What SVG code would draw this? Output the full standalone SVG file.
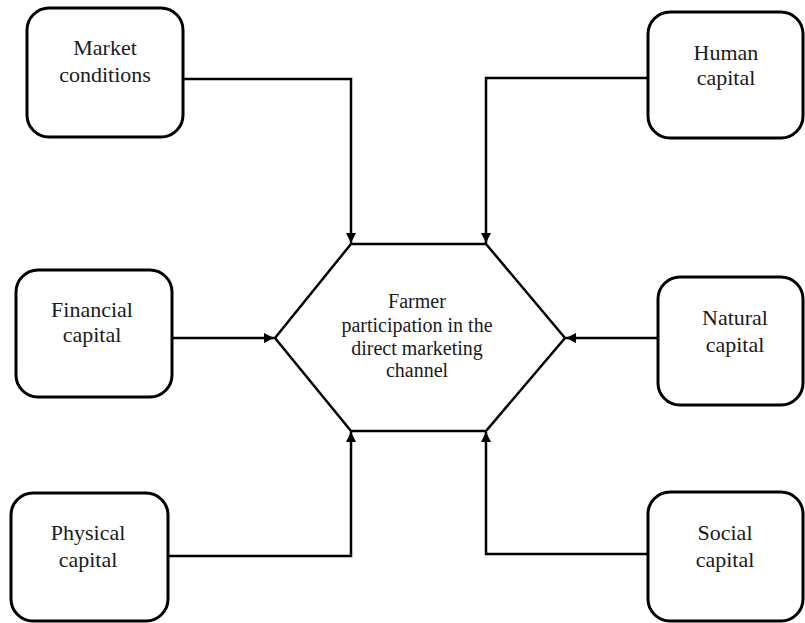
<svg xmlns="http://www.w3.org/2000/svg" width="805" height="623" viewBox="0 0 805 623">
<style>
.box{fill:#fff;stroke:#000;stroke-width:3}
.hex{fill:#fff;stroke:#000;stroke-width:2.5}
.lbl{font-family:"Liberation Serif","Times New Roman",serif;font-size:22px;fill:#1a1a1a;text-anchor:middle}
.hl{font-family:"Liberation Serif","Times New Roman",serif;font-size:20px;fill:#1a1a1a;text-anchor:middle}
.c{fill:none;stroke:#000;stroke-width:2.5}
</style>
<defs>
<marker id="ah" viewBox="0 0 10 10" refX="10" refY="5" markerWidth="4" markerHeight="4" orient="auto" markerUnits="strokeWidth">
<path d="M0,0 L10,5 L0,10 z" fill="#000"/>
</marker>
</defs>
<rect width="805" height="623" fill="#fff"/>
<g id="connectors">
<path class="c" d="M183,79 H351 V243" marker-end="url(#ah)"/>
<path class="c" d="M648,78 H486 V243" marker-end="url(#ah)"/>
<path class="c" d="M172,338 H274" marker-end="url(#ah)"/>
<path class="c" d="M658,338 H566" marker-end="url(#ah)"/>
<path class="c" d="M168,556 H351 V432" marker-end="url(#ah)"/>
<path class="c" d="M648,554 H486 V432" marker-end="url(#ah)"/>
</g>
<g id="center">
<polygon class="hex" points="351,244 486,244 565,338 486,431 351,431 275,338"/>
<text class="hl" x="417" y="308">Farmer</text>
<text class="hl" x="417" y="332">participation in the</text>
<text class="hl" x="417" y="355">direct marketing</text>
<text class="hl" x="417" y="377">channel</text>
</g>
<g id="market">
<rect class="box" x="27" y="8" width="156" height="129" rx="22"/>
<text class="lbl" x="105" y="55">Market</text>
<text class="lbl" x="105" y="82">conditions</text>
</g>
<g id="human">
<rect class="box" x="648" y="12" width="155" height="126" rx="22"/>
<text class="lbl" x="726" y="60">Human</text>
<text class="lbl" x="726" y="85">capital</text>
</g>
<g id="financial">
<rect class="box" x="16" y="270" width="156" height="127" rx="22"/>
<text class="lbl" x="92" y="317">Financial</text>
<text class="lbl" x="92" y="342">capital</text>
</g>
<g id="natural">
<rect class="box" x="658" y="277" width="145" height="128" rx="22"/>
<text class="lbl" x="735" y="325">Natural</text>
<text class="lbl" x="735" y="352">capital</text>
</g>
<g id="physical">
<rect class="box" x="11" y="493" width="157" height="128" rx="22"/>
<text class="lbl" x="88" y="540">Physical</text>
<text class="lbl" x="88" y="567">capital</text>
</g>
<g id="social">
<rect class="box" x="648" y="492" width="155" height="129" rx="22"/>
<text class="lbl" x="725" y="540">Social</text>
<text class="lbl" x="725" y="567">capital</text>
</g>
</svg>
